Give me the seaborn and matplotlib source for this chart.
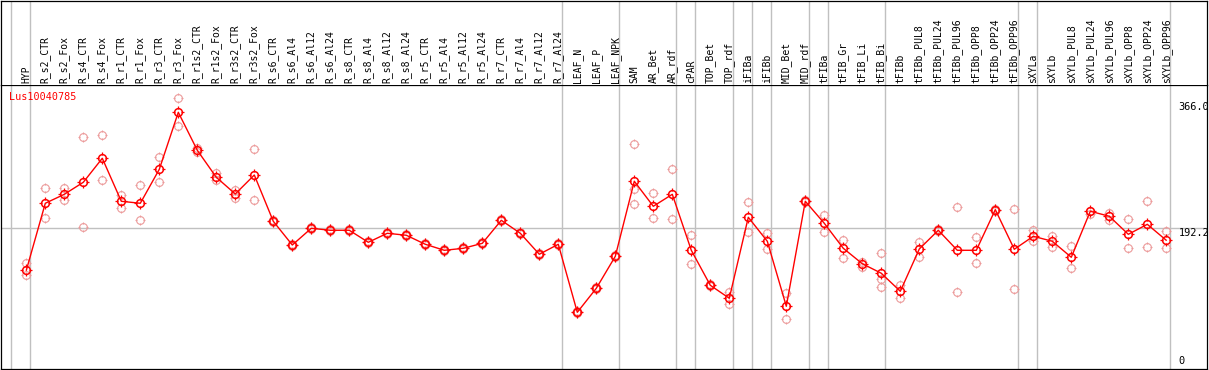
import numpy as np
import pandas as pd
import matplotlib
matplotlib.use("Agg")
import matplotlib.pyplot as plt
import matplotlib.transforms as mtrans
from matplotlib.path import Path
import seaborn as sns

# ---------------- data ----------------
gene = "Lus10040785"

categories = [
    "HYP", "R_s2_CTR", "R_s2_Fox", "R_s4_CTR", "R_s4_Fox", "R_r1_CTR", "R_r1_Fox",
    "R_r3_CTR", "R_r3_Fox", "R_r1s2_CTR", "R_r1s2_Fox", "R_r3s2_CTR", "R_r3s2_Fox",
    "R_s6_CTR", "R_s6_Al4", "R_s6_Al12", "R_s6_Al24", "R_s8_CTR", "R_s8_Al4",
    "R_s8_Al12", "R_s8_Al24", "R_r5_CTR", "R_r5_Al4", "R_r5_Al12", "R_r5_Al24",
    "R_r7_CTR", "R_r7_Al4", "R_r7_Al12", "R_r7_Al24", "LEAF_N", "LEAF_P", "LEAF_NPK",
    "SAM", "AR_Bet", "AR_rdf", "cPAR", "TOP_Bet", "TOP_rdf", "iFIBa", "iFIBb",
    "MID_Bet", "MID_rdf", "tFIBa", "tFIB_Gr", "tFIB_Li", "tFIB_Bi", "tFIBb",
    "tFIBb_PUL8", "tFIBb_PUL24", "tFIBb_PUL96", "tFIBb_OPP8", "tFIBb_OPP24",
    "tFIBb_OPP96", "sXYLa", "sXYLb", "sXYLb_PUL8", "sXYLb_PUL24", "sXYLb_PUL96",
    "sXYLb_OPP8", "sXYLb_OPP24", "sXYLb_OPP96",
]

means = [
    134.5, 225.9, 238.1, 254.5, 287.2, 228.6, 225.9, 272.2, 349.9, 298.1, 261.3,
    238.6, 264.4, 201.3, 169.0, 191.8, 189.1, 189.1, 172.7, 185.0, 182.3, 170.0,
    161.8, 164.5, 171.3, 202.7, 185.0, 156.4, 170.0, 77.3, 110.0, 153.6, 255.9,
    221.8, 238.1, 161.8, 114.1, 96.4, 206.8, 174.1, 85.5, 228.6, 198.6, 164.5,
    143.5, 130.5, 105.9, 163.6, 189.1, 161.8, 161.8, 217.2, 163.2, 180.9, 174.1,
    152.3, 215.0, 208.2, 183.6, 197.2, 175.4,
]

# replicate values per category
replicates = [
    [144.5, 128.5], [246.3, 205.4], [247.1, 230.0], [315.8, 193.2], [318.6, 257.2],
    [237.2, 219.1], [250.4, 202.7], [288.6, 254.5], [369.0, 330.8], [301.3, 295.8],
    [267.2, 257.2], [244.0, 233.5], [299.5, 230.0], [202.7, 199.9], [170.4, 167.6],
    [193.2, 190.4], [190.5, 187.7], [190.5, 187.7], [174.1, 171.3], [186.4, 183.6],
    [183.7, 180.9], [171.4, 168.6], [163.2, 160.4], [165.9, 163.1], [172.7, 169.9],
    [204.1, 201.3], [186.4, 183.6], [157.8, 155.0], [171.4, 168.6], [78.7, 75.9],
    [111.4, 108.6], [155.0, 152.2], [306.3, 245.0, 224.5], [239.5, 205.4],
    [272.2, 204.1], [182.3, 142.7], [115.5, 112.7], [104.6, 89.0], [227.2, 186.3],
    [185.0, 163.2], [103.2, 67.7], [230.0, 227.2], [209.5, 186.3], [175.4, 150.9],
    [145.4, 138.6], [157.7, 122.3, 111.4], [114.1, 96.1], [172.7, 153.1],
    [190.5, 187.7], [220.4, 104.6], [179.5, 144.1], [218.6, 215.8], [217.7, 108.6],
    [189.1, 174.1], [181.7, 165.9], [167.3, 137.3], [215.4, 211.7], [212.7, 203.5],
    [204.1, 164.5], [228.6, 165.9], [187.7, 164.5],
]

# group separators (placed after these categories)
separators_after = [-1, 0, 28, 31, 34, 35, 37, 38, 39, 41, 42, 45, 52, 53, 60]

ref_value = 192.2
max_value = 366.0

# ---------------- frames ----------------
idx = np.arange(len(categories))
mean_df = pd.DataFrame({"pos": idx, "value": means, "cat": categories})
rep_df = pd.DataFrame(
    [(i, v) for i, reps in enumerate(replicates) for v in reps],
    columns=["pos", "value"],
)

# ---------------- figure ----------------
W, H = 1209, 370
sns.set_style("white")
plt.rcParams["font.family"] = ["DejaVu Sans Mono", "DejaVu Sans"]

fig = plt.figure(figsize=(W / 100, H / 100), dpi=100)

x_left_px, x_right_px = 1.0, 1207.0
y_top_px, y_sep_px, y_bot_px = 0.6, 85.0, 369.0

ax = fig.add_axes([x_left_px / W, 1 - y_bot_px / H,
                   (x_right_px - x_left_px) / W, (y_bot_px - y_sep_px) / H])
hx = fig.add_axes([x_left_px / W, 1 - y_sep_px / H,
                   (x_right_px - x_left_px) / W, (y_sep_px - y_top_px) / H],
                  sharex=ax)

x0_px, step_px = 26.3, 19.0
xlim = ((x_left_px - x0_px) / step_px, (x_right_px - x0_px) / step_px)
ax.set_xlim(*xlim)
ax.set_ylim(0, 387.1)
hx.set_ylim(0, 1)

grid_c = "#c0c0c0"
# horizontal reference line
ax.axhline(ref_value, color=grid_c, lw=1.0, zorder=0)
# vertical separators spanning both panels
for s in separators_after:
    xs = s + 0.21
    ax.axvline(xs, color=grid_c, lw=1.0, zorder=0)
    hx.axvline(xs, color=grid_c, lw=1.0, zorder=0)

# marker with small ticks
tick_path = Path(
    [(0, 0.62), (0, 1), (0, -0.62), (0, -1), (0.62, 0), (1, 0), (-0.62, 0), (-1, 0)],
    [Path.MOVETO, Path.LINETO] * 4,
)

rep_c = "#ec9a9a"
# replicates
sns.lineplot(data=rep_df, x="pos", y="value", estimator=None, units=None,
             linestyle="none", marker="o", markersize=5.6, mfc="none",
             mec=rep_c, mew=0.8, color=rep_c, ax=ax, zorder=2)
sns.lineplot(data=rep_df, x="pos", y="value", estimator=None,
             linestyle="none", marker=tick_path, markersize=7.8, mfc="none",
             mec=rep_c, mew=0.8, color=rep_c, ax=ax, zorder=2)
# mean line
sns.lineplot(data=mean_df, x="pos", y="value", estimator=None, color="red",
             lw=1.0, marker="o", markersize=5.6, mfc="none", mec="red",
             mew=1.1, ax=ax, zorder=3)
sns.lineplot(data=mean_df, x="pos", y="value", estimator=None, color="red",
             linestyle="none", marker=tick_path, markersize=8.0, mfc="none",
             mec="red", mew=0.9, ax=ax, zorder=3)

# category labels in header
for i, c in enumerate(categories):
    hx.text(i, 2.3 / (y_sep_px - y_top_px), c, rotation=90, ha="center",
            va="bottom", fontsize=7.0, color="black")

# gene name
ax.text((9.3 - x_left_px) / (x_right_px - x_left_px), (y_bot_px - 96.7) / (y_bot_px - y_sep_px),
        gene, transform=ax.transAxes, ha="left", va="center", fontsize=7.3, color="red")

# right-side value labels
lab_x = (1178.7 - x_left_px) / (x_right_px - x_left_px)
blend = mtrans.blended_transform_factory(ax.transAxes, ax.transData)
off = mtrans.ScaledTranslation(0, -2 / 100, fig.dpi_scale_trans)
ax.text(lab_x, max_value, f"{max_value:.1f}", transform=blend + off, ha="left", va="top",
        fontsize=7.4, color="black", clip_on=True)
ax.text(lab_x, ref_value, f"{ref_value:.1f}", transform=blend, ha="left", va="top",
        fontsize=7.4, color="black", clip_on=True)
off0 = mtrans.ScaledTranslation(0, 3 / 100, fig.dpi_scale_trans)
ax.text(lab_x, 0, "0", transform=blend + off0, ha="left", va="bottom",
        fontsize=7.4, color="black", clip_on=True)

for a in (ax, hx):
    a.set_xlabel("")
    a.set_ylabel("")
    a.set_xticks([])
    a.set_yticks([])
    a.set_facecolor("white")
    for sp in a.spines.values():
        sp.set_visible(True)
        sp.set_color("black")
        sp.set_linewidth(0.9)
hx.spines["bottom"].set_visible(False)
if ax.get_legend():
    ax.get_legend().remove()

fig.savefig("out.png", dpi=100, facecolor="white")
